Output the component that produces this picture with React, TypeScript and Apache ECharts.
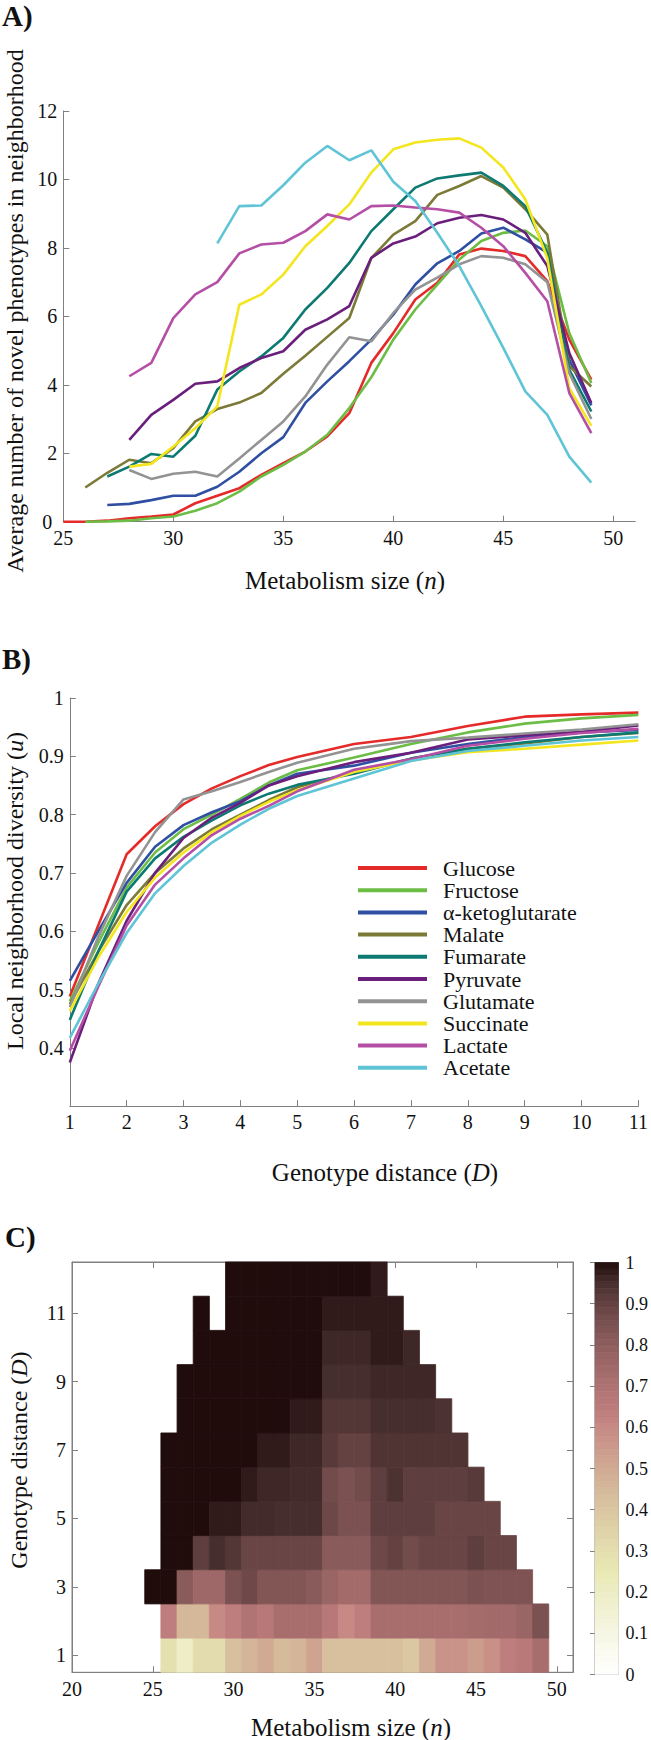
import React, { useEffect, useRef } from 'react';
import * as echarts from 'echarts';

const FONT = 'Liberation Serif, Times New Roman, serif';
const AXIS_GRAY = '#808080';
const TEXT = '#111111';

const seriesNames = ['Glucose', 'Fructose', 'α-ketoglutarate', 'Malate', 'Fumarate', 'Pyruvate', 'Glutamate', 'Succinate', 'Lactate', 'Acetate'];
const seriesColors = ['#e52a2a', '#6cbd45', '#2f4fa2', '#7b7a36', '#0d7a72', '#6a1f7c', '#939393', '#f4e61e', '#b54fa5', '#5fc4d6'];

// ---------- Panel A: metabolism size n vs average number of novel phenotypes ----------
const startA = [25, 26, 27, 26, 27, 28, 28, 28, 28, 32];
const glucoseA = [0, 0, 0.03, 0.1, 0.15, 0.21, 0.54, 0.76, 0.98, 1.37, 1.71, 2.05, 2.49, 3.17, 4.64, 5.51, 6.49, 6.98, 7.81, 7.98, 7.91, 7.76, 7.03, 5.32, 4.15];
const fructoseA = [0, 0.01, 0.03, 0.1, 0.15, 0.32, 0.54, 0.88, 1.32, 1.66, 2.05, 2.54, 3.32, 4.22, 5.32, 6.2, 6.93, 7.66, 8.2, 8.44, 8.51, 8.05, 5.51, 4.05];
const akgA = [0.49, 0.52, 0.63, 0.76, 0.76, 1.02, 1.46, 2.0, 2.47, 3.47, 4.1, 4.69, 5.32, 6.05, 6.93, 7.55, 7.91, 8.42, 8.59, 8.25, 7.86, 4.73, 3.4];
const malateA = [1.0, 1.43, 1.81, 1.71, 2.15, 2.93, 3.29, 3.48, 3.76, 4.32, 4.85, 5.4, 5.95, 7.7, 8.39, 8.78, 9.55, 9.81, 10.1, 9.76, 9.13, 8.39, 4.54, 3.95];
const fumarateA = [1.32, 1.61, 1.98, 1.9, 2.51, 3.86, 4.39, 4.83, 5.37, 6.2, 6.83, 7.56, 8.49, 9.13, 9.76, 10.03, 10.12, 10.2, 9.81, 9.22, 7.86, 4.44, 3.22];
const pyruvateA = [2.39, 3.12, 3.56, 4.03, 4.1, 4.49, 4.78, 4.98, 5.61, 5.91, 6.3, 7.71, 8.13, 8.33, 8.72, 8.88, 8.96, 8.83, 8.44, 7.47, 4.93, 3.47];
const glutamateA = [1.51, 1.25, 1.4, 1.46, 1.32, 1.85, 2.39, 2.93, 3.66, 4.59, 5.39, 5.27, 6.1, 6.78, 7.13, 7.52, 7.76, 7.71, 7.52, 7.0, 4.34, 3.0];
const succinateA = [1.61, 1.69, 2.2, 2.73, 3.37, 6.34, 6.64, 7.22, 8.05, 8.64, 9.27, 10.2, 10.88, 11.08, 11.16, 11.2, 10.93, 10.35, 9.42, 7.7, 3.9, 2.8];
const lactateA = [4.25, 4.64, 5.95, 6.64, 7.0, 7.84, 8.1, 8.15, 8.49, 8.98, 8.83, 9.22, 9.24, 9.18, 9.13, 9.03, 8.59, 8.05, 7.27, 6.44, 3.76, 2.59];
const acetateA = [8.13, 9.22, 9.24, 9.83, 10.49, 10.98, 10.56, 10.85, 9.93, 9.37, 8.44, 7.47, 6.3, 5.08, 3.81, 3.12, 1.9, 1.14];
const valuesA = [glucoseA, fructoseA, akgA, malateA, fumarateA, pyruvateA, glutamateA, succinateA, lactateA, acetateA];
const ticksA = [25, 30, 35, 40, 45, 50];

// ---------- Panel B: genotype distance D vs local neighborhood diversity u ----------
const distanceB = [1, 1.5, 2, 2.5, 3, 3.5, 4, 4.5, 5, 6, 7, 8, 9, 10, 11];
const glucoseB = [0.488, 0.61, 0.732, 0.78, 0.818, 0.845, 0.866, 0.885, 0.899, 0.921, 0.933, 0.952, 0.968, 0.972, 0.975];
const fructoseB = [0.48, 0.58, 0.675, 0.735, 0.775, 0.8, 0.827, 0.855, 0.876, 0.898, 0.921, 0.941, 0.956, 0.965, 0.971];
const akgB = [0.515, 0.6, 0.683, 0.745, 0.782, 0.804, 0.823, 0.85, 0.87, 0.884, 0.906, 0.921, 0.933, 0.941, 0.945];
const malateB = [0.475, 0.565, 0.645, 0.7, 0.742, 0.775, 0.8, 0.825, 0.847, 0.873, 0.896, 0.913, 0.922, 0.933, 0.94];
const fumarateB = [0.448, 0.565, 0.668, 0.725, 0.762, 0.79, 0.816, 0.836, 0.851, 0.87, 0.896, 0.913, 0.924, 0.933, 0.941];
const pyruvateB = [0.375, 0.51, 0.618, 0.7, 0.76, 0.795, 0.82, 0.85, 0.866, 0.89, 0.906, 0.929, 0.936, 0.942, 0.953];
const glutamateB = [0.47, 0.59, 0.695, 0.77, 0.826, 0.84, 0.856, 0.873, 0.889, 0.913, 0.926, 0.932, 0.939, 0.946, 0.955];
const succinateB = [0.463, 0.555, 0.633, 0.692, 0.735, 0.77, 0.798, 0.822, 0.842, 0.873, 0.893, 0.907, 0.913, 0.92, 0.927];
const lactateB = [0.395, 0.505, 0.61, 0.68, 0.725, 0.765, 0.793, 0.815, 0.84, 0.877, 0.895, 0.918, 0.93, 0.94, 0.947];
const acetateB = [0.417, 0.51, 0.597, 0.665, 0.712, 0.752, 0.783, 0.81, 0.832, 0.862, 0.892, 0.909, 0.918, 0.927, 0.933];
const valuesB = [glucoseB, fructoseB, akgB, malateB, fumarateB, pyruvateB, glutamateB, succinateB, lactateB, acetateB];

// ---------- Panel C: heat map, rows D = 1..12, columns start at heatRowStart ----------
const heatRowStart = [26, 26, 25, 26, 26, 26, 26, 27, 27, 28, 28, 30];
const heatD1 = [0.29, 0.2, 0.31, 0.31, 0.42, 0.46, 0.5, 0.44, 0.46, 0.52, 0.42, 0.42, 0.42, 0.42, 0.42, 0.39, 0.5, 0.57, 0.57, 0.545, 0.58, 0.64, 0.66, 0.72];
const heatD2 = [0.64, 0.45, 0.45, 0.6, 0.64, 0.69, 0.665, 0.72, 0.72, 0.72, 0.665, 0.6, 0.64, 0.72, 0.72, 0.72, 0.72, 0.72, 0.72, 0.73, 0.74, 0.74, 0.765, 0.85];
const heatD3 = [1, 1, 0.81, 0.75, 0.75, 0.85, 0.876, 0.83, 0.83, 0.83, 0.81, 0.765, 0.735, 0.735, 0.83, 0.83, 0.83, 0.83, 0.83, 0.83, 0.85, 0.84, 0.84, 0.84];
const heatD4 = [1, 1, 0.91, 0.95, 0.93, 0.89, 0.89, 0.89, 0.89, 0.89, 0.81, 0.81, 0.81, 0.88, 0.9, 0.87, 0.89, 0.89, 0.89, 0.91, 0.89, 0.89];
const heatD5 = [1, 1, 1, 0.98, 0.98, 0.955, 0.955, 0.95, 0.95, 0.95, 0.88, 0.85, 0.85, 0.91, 0.91, 0.91, 0.91, 0.89, 0.89, 0.89, 0.89];
const heatD6 = [1, 1, 1, 1, 1, 0.98, 0.96, 0.96, 0.955, 0.955, 0.87, 0.85, 0.87, 0.91, 0.94, 0.91, 0.91, 0.91, 0.91, 0.92];
const heatD7 = [1, 1, 1, 1, 1, 1, 0.98, 0.98, 0.96, 0.96, 0.92, 0.9, 0.9, 0.935, 0.935, 0.935, 0.935, 0.935, 0.935];
const heatD8 = [1, 1, 1, 1, 1, 1, 1, 0.98, 0.98, 0.93, 0.93, 0.93, 0.95, 0.95, 0.95, 0.95, 0.94];
const heatD9 = [1, 1, 1, 1, 1, 1, 1, 1, 1, 0.95, 0.95, 0.95, 0.96, 0.96, 0.96, 0.96];
const heatD10 = [1, 1, 1, 1, 1, 1, 1, 1, 0.96, 0.96, 0.96, 0.98, 0.98, 0.96];
const heatD11 = [1, null, 1, 1, 1, 1, 1, 1, 0.98, 0.98, 0.98, 0.98, 0.98];
const heatD12 = [1, 1, 1, 1, 1, 1, 1, 1, 1, 0.98];
const heatRows = [heatD1, heatD2, heatD3, heatD4, heatD5, heatD6, heatD7, heatD8, heatD9, heatD10, heatD11, heatD12];
const ticksCx = [20, 25, 30, 35, 40, 45, 50];
const ticksCy = [1, 3, 5, 7, 9, 11];

// flipped MATLAB "pink" colormap: 0 -> white, 1 -> dark
const pinkStops = ['#ffffff', 'rgb(251,251,242)', 'rgb(246,246,228)', 'rgb(242,242,213)', 'rgb(237,237,198)', 'rgb(233,233,180)', 'rgb(228,222,174)', 'rgb(223,210,168)', 'rgb(218,198,161)', 'rgb(213,184,154)', 'rgb(208,170,147)', 'rgb(203,154,140)', 'rgb(198,137,132)', 'rgb(188,123,123)', 'rgb(174,114,114)', 'rgb(159,104,104)', 'rgb(142,93,93)', 'rgb(123,81,81)', 'rgb(100,66,66)', 'rgb(71,46,46)', 'rgb(33,12,12)'];
const colorbarLevels = 64;

function axisCommon(extra: any) {
  return {
    axisLine: { show: true, lineStyle: { color: AXIS_GRAY, width: 1 } },
    axisTick: { show: true, inside: true, length: 6, lineStyle: { color: AXIS_GRAY, width: 1 } },
    axisLabel: { fontFamily: FONT, fontSize: 20, color: TEXT, margin: 6 },
    splitLine: { show: false },
    ...extra,
  };
}

function txt(x: number, y: number, text: string, size: number, opts: any = {}) {
  return {
    type: 'text',
    x,
    y,
    rotation: opts.rotation || 0,
    style: {
      text,
      fontFamily: FONT,
      fontSize: size,
      fontWeight: opts.bold ? 'bold' : 'normal',
      fill: TEXT,
      align: opts.align || 'center',
      verticalAlign: 'middle',
      textAlign: opts.align || 'center',
      textVerticalAlign: 'middle',
      rich: { i: { fontFamily: FONT, fontSize: size, fontStyle: 'italic', fill: TEXT } },
    },
  };
}

export default function App() {
  const ref = useRef<HTMLDivElement>(null);

  useEffect(() => {
    if (!ref.current) return;
    const chart = echarts.init(ref.current, undefined, { renderer: 'svg' });

    const seriesA = seriesNames.map((name, i) => ({
      name, type: 'line', xAxisIndex: 0, yAxisIndex: 0, color: seriesColors[i],
      showSymbol: false, symbol: 'none', lineStyle: { width: 2.6, color: seriesColors[i] },
      data: valuesA[i].map((v, j) => [startA[i] + j, v]), z: 3,
    }));

    const seriesB = seriesNames.map((name, i) => ({
      name, type: 'line', xAxisIndex: 1, yAxisIndex: 1, color: seriesColors[i],
      showSymbol: false, symbol: 'none', lineStyle: { width: 2.6, color: seriesColors[i] },
      data: valuesB[i].map((v, j) => [distanceB[j], v]), z: 3,
    }));

    const heatData: number[][] = [];
    heatRows.forEach((row, r) => {
      row.forEach((v, j) => {
        if (v !== null && v !== undefined) heatData.push([heatRowStart[r] + j, r + 1, v as number]);
      });
    });

    const colorbarData: number[][] = [];
    for (let i = 0; i < colorbarLevels; i++) {
      colorbarData.push([i / colorbarLevels, (i + 1) / colorbarLevels, (i + 0.5) / colorbarLevels]);
    }

    const option: any = {
      animation: false,
      backgroundColor: '#ffffff',
      textStyle: { fontFamily: FONT },
      grid: [
        { left: 63.3, top: 111, width: 572, height: 410.7, show: false },
        { left: 69.8, top: 698, width: 569, height: 408.2, show: false },
        { left: 72, top: 1262, width: 501, height: 410.3, show: true, borderColor: AXIS_GRAY, borderWidth: 1, backgroundColor: 'transparent' },
        { left: 595, top: 1262.5, width: 26, height: 412, show: true, borderColor: AXIS_GRAY, borderWidth: 1, backgroundColor: 'transparent' },
      ],
      xAxis: [
        axisCommon({
          gridIndex: 0, type: 'value', min: 25, max: 51,
          axisTick: { show: true, inside: true, length: 6, customValues: ticksA, lineStyle: { color: AXIS_GRAY } },
          axisLabel: { fontFamily: FONT, fontSize: 20, lineHeight: 14, color: TEXT, margin: 9, customValues: ticksA },
        }),
        axisCommon({ gridIndex: 1, type: 'value', min: 1, max: 11, interval: 1 }),
        axisCommon({
          gridIndex: 2, type: 'value', min: 20, max: 51,
          axisTick: { show: true, inside: true, length: 6, customValues: ticksCx, lineStyle: { color: AXIS_GRAY } },
          axisLabel: { fontFamily: FONT, fontSize: 20, color: TEXT, margin: 7, customValues: ticksCx },
        }),
        axisCommon({
          gridIndex: 2, type: 'value', min: 20, max: 51, position: 'top',
          axisTick: { show: true, inside: true, length: 6, customValues: ticksCx, lineStyle: { color: AXIS_GRAY } },
          axisLabel: { show: false },
        }),
        { gridIndex: 3, type: 'value', min: 0, max: 1, show: false },
      ],
      yAxis: [
        axisCommon({
          gridIndex: 0, type: 'value', min: 0, max: 12, interval: 2,
          axisLabel: {
            fontFamily: FONT, fontSize: 20, lineHeight: 14, color: TEXT, margin: 6,
            formatter: (v: number) => (v === 0 ? '{z|0}' : String(v)),
            rich: { z: { fontFamily: FONT, fontSize: 20, lineHeight: 14, color: TEXT, padding: [0, 5, 0, 0] } },
          },
        }),
        axisCommon({
          gridIndex: 1, type: 'value', min: 0.3, max: 1, interval: 0.1,
          axisLabel: {
            fontFamily: FONT, fontSize: 20, color: TEXT, margin: 6,
            formatter: (v: number) => (Math.abs(v - 0.3) < 1e-6 ? '' : String(+v.toFixed(1))),
          },
        }),
        axisCommon({
          gridIndex: 2, type: 'value', min: 0.5, max: 12.5,
          axisTick: { show: true, inside: true, length: 6, customValues: ticksCy, lineStyle: { color: AXIS_GRAY } },
          axisLabel: { fontFamily: FONT, fontSize: 20, color: TEXT, margin: 6, customValues: ticksCy },
        }),
        axisCommon({
          gridIndex: 2, type: 'value', min: 0.5, max: 12.5, position: 'right',
          axisTick: { show: true, inside: true, length: 6, customValues: ticksCy, lineStyle: { color: AXIS_GRAY } },
          axisLabel: { show: false },
        }),
        axisCommon({
          gridIndex: 3, type: 'value', min: 0, max: 1, interval: 0.1, position: 'right',
          axisTick: { show: true, inside: true, length: 5, lineStyle: { color: AXIS_GRAY } },
          axisLabel: {
            fontFamily: FONT, fontSize: 18, color: TEXT, margin: 7,
            formatter: (v: number) => String(+v.toFixed(1)),
          },
        }),
      ],
      visualMap: {
        type: 'continuous', show: false, min: 0, max: 1, dimension: 2,
        seriesIndex: [20, 21],
        inRange: { color: pinkStops },
      },
      legend: {
        orient: 'vertical', left: 353, top: 852,
        itemWidth: 69, itemHeight: 4, itemGap: 0.2,
        icon: 'rect', selectedMode: false,
        data: seriesNames,
        textStyle: { fontFamily: FONT, fontSize: 22, color: TEXT, lineHeight: 22, padding: [0, 0, 0, 11] },
      },
      series: [
        ...seriesA,
        ...seriesB,
        {
          type: 'custom', xAxisIndex: 2, yAxisIndex: 2, data: heatData, encode: { x: 0, y: 1 },
          renderItem: (params: any, api: any) => {
            const n = api.value(0);
            const d = api.value(1);
            const p0 = api.coord([n - 0.5, d + 0.5]);
            const p1 = api.coord([n + 0.5, d - 0.5]);
            const c = api.visual('color');
            return {
              type: 'rect',
              shape: { x: p0[0], y: p0[1], width: p1[0] - p0[0], height: p1[1] - p0[1] },
              style: { fill: c, stroke: c, lineWidth: 0.8 },
            };
          },
          z: 1,
        },
        {
          type: 'custom', xAxisIndex: 4, yAxisIndex: 4, data: colorbarData, encode: { y: [0, 1] },
          renderItem: (params: any, api: any) => {
            const p0 = api.coord([0, api.value(1)]);
            const p1 = api.coord([1, api.value(0)]);
            const c = api.visual('color');
            return {
              type: 'rect',
              shape: { x: p0[0], y: p0[1], width: p1[0] - p0[0], height: p1[1] - p0[1] },
              style: { fill: c, stroke: c, lineWidth: 0.6 },
            };
          },
          z: 1,
        },
      ],
      graphic: [
        txt(2, 16, 'A)', 29, { bold: true, align: 'left' }),
        txt(2, 659, 'B)', 29, { bold: true, align: 'left' }),
        txt(5, 1237, 'C)', 29, { bold: true, align: 'left' }),
        txt(14.5, 311, 'Average number of novel phenotypes in neighborhood', 24, { rotation: Math.PI / 2 }),
        txt(345, 580, 'Metabolism size ({i|n})', 25),
        txt(14.5, 891, 'Local neighborhood diversity ({i|u})', 24, { rotation: Math.PI / 2 }),
        txt(385, 1172, 'Genotype distance ({i|D})', 25),
        txt(19, 1460, 'Genotype distance ({i|D})', 24, { rotation: Math.PI / 2 }),
        txt(351, 1727, 'Metabolism size ({i|n})', 25),
      ],
    };

    chart.setOption(option);
    return () => {
      chart.dispose();
    };
  }, []);

  return (
    <div
      ref={ref}
      style={{ position: 'absolute', left: 0, top: 0, width: 651, height: 1740, background: '#fff' }}
    />
  );
}
